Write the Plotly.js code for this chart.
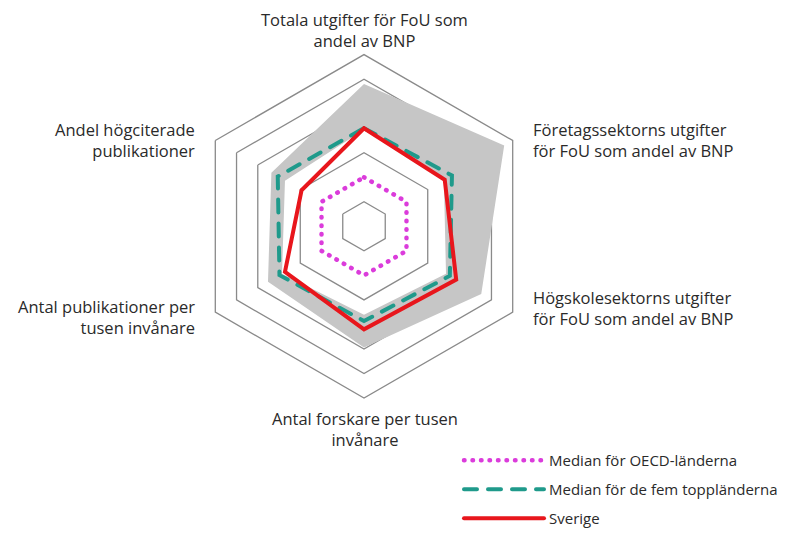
<!DOCTYPE html>
<html>
<head>
<meta charset="utf-8">
<script src="https://cdn.plot.ly/plotly-3.0.1.min.js"></script>
<style>
html,body{margin:0;padding:0;background:#fff;}
#chart{width:792px;height:535px;}
#chart path.js-line{stroke-linecap:round;}
</style>
</head>
<body>
<div id="chart"></div>
<script>
// ---- data ----
var categories = [
  "Totala utgifter för FoU som<br>andel av BNP",
  "Företagssektorns utgifter<br>för FoU som andel av BNP",
  "Högskolesektorns utgifter<br>för FoU som andel av BNP",
  "Antal forskare per tusen<br>invånare",
  "Antal publikationer per<br>tusen invånare",
  "Andel högciterade<br>publikationer"
];
var oecdMedian = [1.0, 1.0, 1.0, 1.0, 1.0, 1.0];
var top5Median = [2.0, 2.07, 2.02, 1.93, 1.99, 2.03];
var sverige    = [2.0, 1.9, 2.17, 2.1, 1.86, 1.47];
var bandMax    = [2.9, 3.3, 2.76, 2.47, 2.26, 2.18];
var bandMin    = [1.97, 1.88, 1.93, 1.8, 1.93, 1.86];
var gridVals   = [0.5, 1.5, 2.5, 3.0];
var rMax = 3.5;
var seriesNames = ["Median för OECD-länderna", "Median för de fem toppländerna", "Sverige"];

function closed(a){ return a.concat([a[0]]); }
var theta = closed(categories);

var FONT = "Open Sans, sans-serif";
var W = 792, H = 535;

var traces = [
  {type:'scatterpolar', r:closed(bandMin), theta:theta, mode:'lines',
   line:{width:0, color:'rgba(0,0,0,0)'}, showlegend:false, hoverinfo:'skip'},
  {type:'scatterpolar', r:closed(bandMax), theta:theta, mode:'lines', fill:'tonext',
   fillcolor:'#c6c6c6', line:{width:0, color:'rgba(0,0,0,0)'}, showlegend:false, hoverinfo:'skip'},
  {type:'scatterpolar', r:closed(oecdMedian), theta:theta, mode:'lines', name:seriesNames[0],
   legendgroup:'a', line:{color:'#db3cdb', width:4.5, dash:'0.5px,8px'}},
  {type:'scatterpolar', r:closed(top5Median), theta:theta, mode:'lines', name:seriesNames[1],
   legendgroup:'b', line:{color:'#1f9a8b', width:4, dash:'13px,11px'}},
  {type:'scatterpolar', r:closed(sverige), theta:theta, mode:'lines', name:seriesNames[2],
   legendgroup:'c', line:{color:'#e8161c', width:4}}
];

// label placement in pixels (layout only)
var labelPos = [
  {x:364, y:31, align:'center'},
  {x:531, y:144, align:'left'},
  {x:531, y:317, align:'left'},
  {x:365, y:442, align:'center'},
  {x:197, y:327, align:'right'},
  {x:197, y:144, align:'right'}
];
var annotations = categories.map(function(c, i){
  var p = labelPos[i];
  return {
    text:c, xref:'paper', yref:'paper', x:p.x/W, y:1 - p.y/H,
    xanchor:p.align, yanchor:'middle', align:p.align, showarrow:false,
    font:{family:FONT, size:16.5, color:'#2a2a2a'}
  };
});

var cx = 364, cy = 233.3, R = 177;
var layout = {
  width:W, height:H,
  margin:{l:0, r:0, t:0, b:0},
  paper_bgcolor:'#fff',
  showlegend:true,
  legend:{x:459/W, y:1 - 458/H, xanchor:'left', yanchor:'top',
    font:{family:FONT, size:15, color:'#2a2a2a'}, itemwidth:80,
    traceorder:'grouped', tracegroupgap:6.5, bgcolor:'rgba(0,0,0,0)'},
  polar:{
    domain:{x:[(cx-R)/W, (cx+R)/W], y:[(H-cy-R)/H, (H-cy+R)/H]},
    bgcolor:'rgba(0,0,0,0)',
    gridshape:'linear',
    angularaxis:{type:'category', rotation:90, direction:'clockwise',
      showticklabels:false, ticks:'', showgrid:false,
      showline:true, linecolor:'#8a8a8a', linewidth:1.3},
    radialaxis:{range:[0, rMax], tickvals:gridVals, showticklabels:false, ticks:'',
      showline:false, showgrid:true, gridcolor:'#8a8a8a', gridwidth:1.3}
  },
  annotations:annotations
};

Plotly.newPlot('chart', traces, layout, {displayModeBar:false, staticPlot:true});
</script>
</body>
</html>
